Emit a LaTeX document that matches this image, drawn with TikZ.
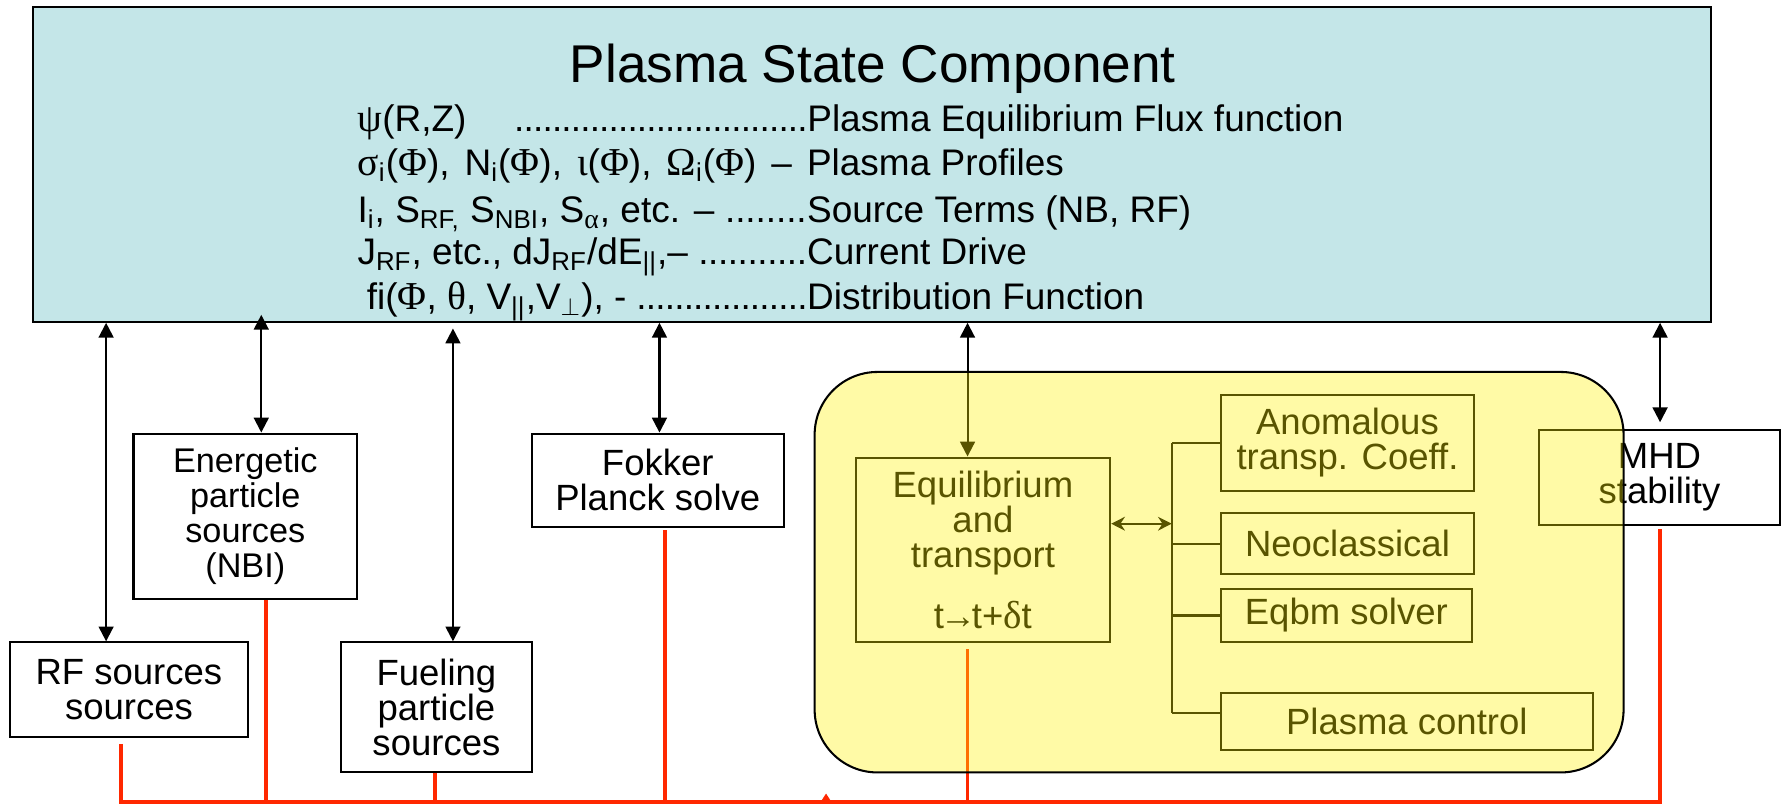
\documentclass[tikz,border=0pt]{standalone}
\usepackage{fontspec}
\setmainfont{Liberation Sans}
\newfontfamily\grk[Scale=1.07]{Liberation Serif}
\usetikzlibrary{arrows.meta,calc}
\newcommand{\gk}[1]{{\grk #1}}
\newcommand{\sbs}[1]{\textsubscript{#1}}
\newcommand{\pdots}{\xleaders\hbox to 0.25em{\hss.\hss}\hfill}
\definecolor{cyanc}{HTML}{C4E6E8}
\definecolor{redc}{HTML}{FF2800}
\definecolor{yelc}{RGB}{255,241,0}
\begin{document}
\begin{tikzpicture}[x=0.5pt,y=-0.5pt,
  box/.style={draw=black, line width=0.9pt, inner sep=0pt, align=center,
    font=\fontsize{16}{15.3}\selectfont},
  txtline/.style={anchor=base west, inner sep=0pt, font=\fontsize{16.2}{19}\selectfont},
  dbl/.style={{Triangle[length=6.5pt,width=6.5pt]}-{Triangle[length=6.5pt,width=6.5pt]}, line width=0.9pt},
  olv/.style={line width=1pt},
  redl/.style={draw=redc, line width=1.7pt}]
\useasboundingbox (0,0) rectangle (1568,708);

% Plasma state component
\node[draw, fill=cyanc, line width=0.9pt, inner sep=0pt, minimum width=735.5pt, minimum height=138pt] (ps) at (764.5,144) {};
\node[anchor=base, inner sep=0pt, font=\fontsize{23.3}{28}\selectfont] (title) at (765,72) {Plasma State Component};
\node[txtline] (l1) at (313,115) {\makebox[197pt][l]{\gk{ψ}(R,Z)\hspace{1.3em}\pdots}Plasma Equilibrium Flux function};
\node[txtline] (l2) at (313,154) {\makebox[197pt][s]{\gk{σ}\sbs{i}(\gk{Φ}), N\sbs{i}(\gk{Φ}), \gk{ι}(\gk{Φ}), \gk{Ω}\sbs{i}(\gk{Φ}) – }Plasma Profiles};
\node[txtline] (l3) at (313,195) {\makebox[197pt][l]{I\sbs{i}, S\sbs{RF,} S\sbs{NBI}, S\sbs{\gk{α}}, etc. – \pdots}Source Terms (NB, RF)};
\node[txtline] (l4) at (313,232) {\makebox[197pt][l]{J\sbs{RF}, etc., dJ\sbs{RF}/dE\sbs{||},– \pdots}Current Drive};
\node[txtline] (l5) at (313,271) {\makebox[197pt][l]{\hspace{0.25em}fi(\gk{Φ}, \gk{θ}, V\sbs{||},V\sbs{$\perp$}), - \pdots}Distribution Function};

% boxes
\node[box, minimum width=104pt, minimum height=41.5pt] (rf) at (113,604.5) {RF sources\\sources};
\node[box, minimum width=98pt, minimum height=72.5pt, font=\fontsize{15}{15.3}\selectfont] (en) at (215,452.5) {Energetic\\particle\\sources\\(NBI)};
\node[box, minimum width=83.5pt, minimum height=57pt] (fu) at (382.5,620) {Fueling\\particle\\sources};
\node[box, minimum width=110.5pt, minimum height=41pt] (fk) at (576.5,421) {Fokker\\Planck solve};
\node[box, minimum width=111.5pt, minimum height=81pt] (eq) at (861.5,482) {Equilibrium\\and\\transport\\[11.5pt]t\kern-0.12em→\kern-0.12em t+\gk{δ}t};
\node[box, minimum width=111pt, minimum height=42pt] (an) at (1181,388) {Anomalous\\transp. Coeff.};
\node[box, minimum width=111pt, minimum height=26.5pt] (ne) at (1181,476.5) {Neoclassical};
\node[box, minimum width=110pt, minimum height=23.5pt] (eb) at (1180,539.5) {Eqbm solver};
\node[box, minimum width=163pt, minimum height=25pt] (pc) at (1233,632) {Plasma control};
\node[box, minimum width=105.5pt, minimum height=41.5pt] (mhd) at (1454.5,418.5) {MHD\\stability};

% vertical arrows to the plasma state
\coordinate (x1) at (93,0);
\coordinate (x2) at (229,0);
\coordinate (x3) at (397,0);
\coordinate (x4) at (578,0);
\coordinate (x5) at (848,0);
\coordinate (x6) at (1455,0);
\draw[dbl] (ps.south -| x1) -- (rf.north -| x1);
\draw[dbl, shorten <=-3.5pt] (ps.south -| x2) -- (en.north -| x2);
\draw[dbl, shorten <=2.5pt] (ps.south -| x3) -- (fu.north -| x3);
\draw[dbl] (ps.south -| x4) -- (fk.north -| x4);
\draw[dbl] (ps.south -| x5) -- (eq.north -| x5);
\draw[dbl, shorten >=3pt] (ps.south -| x6) -- (mhd.north -| x6);

% internal connections of the transport block
\coordinate (bt) at (1027,388);
\coordinate (bb) at (1027,625);
\coordinate (ar) at (1027,459);
\draw[olv] (bt) -- (bb);
\draw[olv] (an.west) -- (an.west -| bt);
\draw[olv] (ne.west) -- (ne.west -| bt);
\draw[olv] (eb.west) -- (eb.west -| bt);
\draw[olv] ([yshift=3.5pt]pc.west) -- ([yshift=3.5pt]pc.west -| bt);
\draw[olv, {Stealth[length=6pt,width=6pt]}-{Stealth[length=6pt,width=6pt]}] (eq.east |- ar) -- (ar);

% red bus
\coordinate (rl) at (106,703);
\coordinate (rr) at (1455,703);
\coordinate (r2) at (233,703);
\coordinate (r3) at (381,703);
\coordinate (r4) at (583,703);
\coordinate (r5) at (848,703);
\draw[redl] ([yshift=-2.5pt]rf.south -| rl) -- (rl) -- (rr) -- ([yshift=-1.5pt]mhd.south -| rr);
\draw[redl] (en.south -| r2) -- (r2);
\draw[redl] (fu.south -| r3) -- (r3);
\draw[redl] ([yshift=-1pt]fk.south -| r4) -- (r4);
\draw[redl] ([yshift=-2.5pt]eq.south -| r5) -- (r5);
\fill[redc] (718.5,704) -- (724,695.5) -- (729.5,704) -- cycle;

% translucent yellow block on top
\node[draw=black, line width=0.9pt, fill=yelc, fill opacity=0.35, draw opacity=1, rounded corners=27.5pt, inner sep=0pt, minimum width=354.5pt, minimum height=175.5pt] (yb) at (1068.5,501.5) {};
\end{tikzpicture}
\end{document}
